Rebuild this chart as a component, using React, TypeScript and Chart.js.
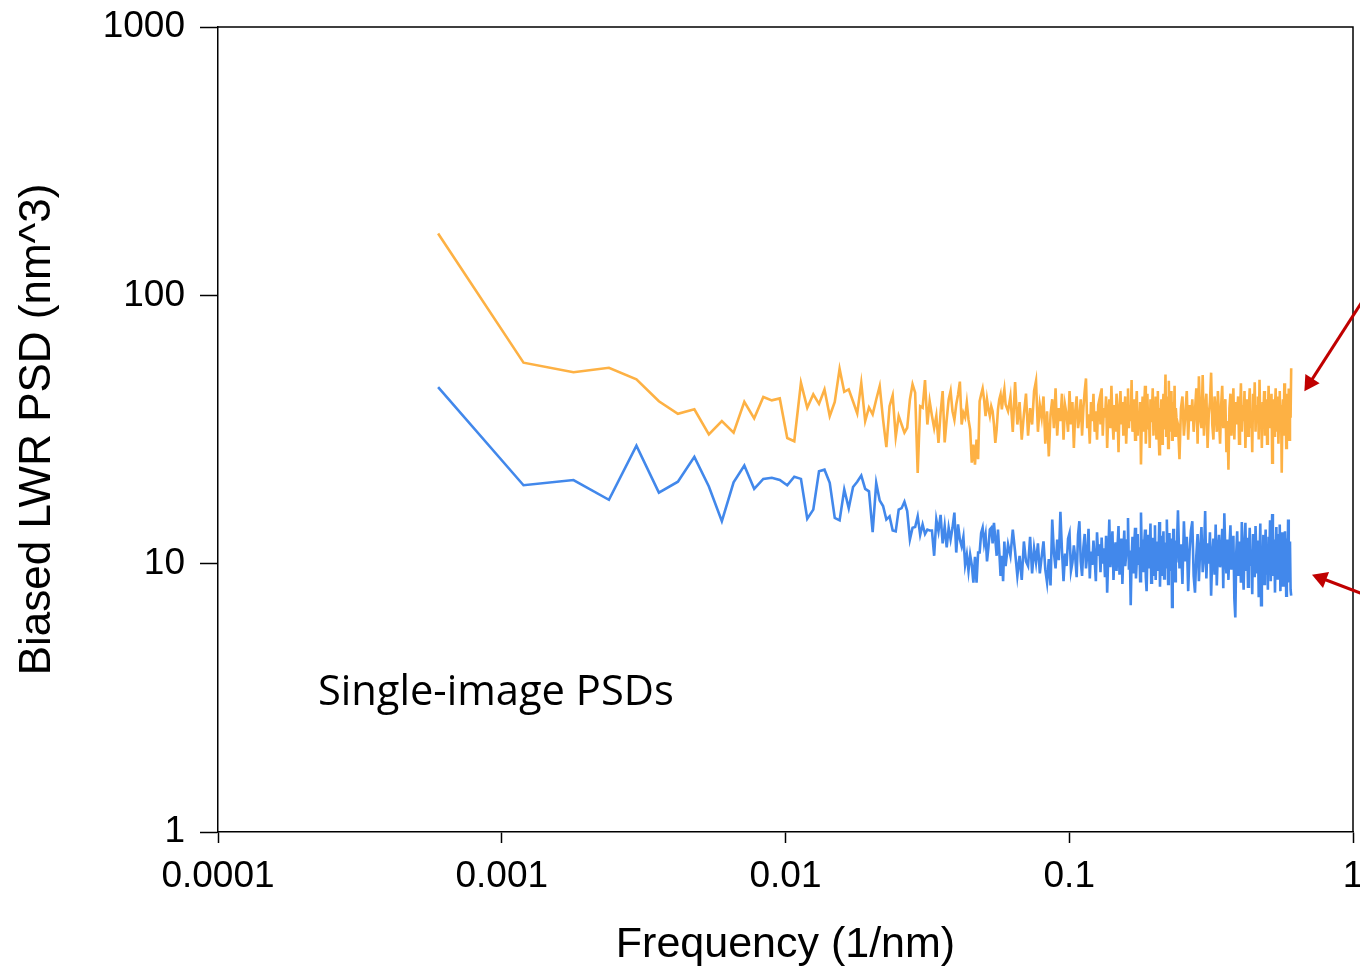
import React, { useEffect, useRef } from 'react';
import { Chart, registerables } from 'chart.js';

Chart.register(...registerables);

// Frequency grid: PSD bins are harmonics of the base frequency (1/nm)
const BASE_FREQ = 5.966e-4;
// [first harmonic, step, count]
const HARMONIC_SEGMENTS: number[][] = [
  [1, 1, 100],
  [102, 2, 150],
  [405, 5, 123],
];

const X_TICKS = [0.0001, 0.001, 0.01, 0.1, 1];
const X_TICK_LABELS = ['0.0001', '0.001', '0.01', '0.1', '1'];
const Y_TICKS = [1, 10, 100, 1000];
const Y_TICK_LABELS = ['1', '10', '100', '1000'];

const X_TITLE = 'Frequency (1/nm)';
const Y_TITLE = 'Biased LWR PSD (nm^3)';
const NOTE_TEXT = 'Single-image PSDs';
const NOTE_POS = { x: 2.25e-4, y: 2.98 };

// Arrow annotations (data coordinates): from -> to (tip)
const ARROWS = [
  { from: [1.47, 158], to: [0.674, 43.9] },
  { from: [1.47, 6.82], to: [0.717, 9.1] },
];

// Upper (orange) single-image PSD, nm^3
const ORANGE_PSD = [
  170, 56.1, 51.7, 53.7, 48.6, 40.3, 36.2, 37.6, 30.3, 34.0,
  30.8, 40.1, 34.8, 41.8, 40.6, 41.3, 29.4, 28.6, 47.2, 38.1,
  42.8, 39.4, 44.6, 35.5, 40.1, 53.2, 43.7, 44.6, 40.2, 36.3,
  47.2, 34.0, 38.2, 36.0, 40.9, 45.9, 34.4, 27.2, 38.6, 42.4,
  29.7, 35.5, 33.0, 30.8, 32.1, 40.9, 46.6, 43.4, 21.8, 38.6,
  38.1, 48.3, 33.0, 40.3, 35.6, 32.0, 35.6, 28.2, 36.5, 44.0,
  28.3, 34.4, 40.9, 44.0, 37.0, 34.4, 39.2, 42.7, 47.7, 33.0,
  36.5, 35.1, 39.8, 34.4, 31.6, 23.8, 27.8, 23.4, 29.0, 24.5,
  40.3, 42.7, 44.9, 40.9, 35.5, 40.9, 37.6, 35.5, 38.6, 37.0,
  33.0, 28.2, 31.6, 37.6, 40.9, 42.7, 37.6, 41.5, 44.6, 39.2,
  // step 2
  37, 42, 31, 47.5, 33, 40, 29, 36, 43, 30,
  38, 33, 44, 48, 31, 39, 35, 42, 28, 37,
  25.1, 36, 41, 32, 45, 30, 38, 34, 43, 29,
  39, 36, 31, 44, 33, 40, 27, 37, 42, 32,
  35, 41, 30, 38, 44, 49, 32, 36, 28, 40,
  34, 43, 31, 37, 29, 39, 40.9, 33, 45, 30,
  38, 35, 42, 27, 36, 41, 32, 46, 34, 29,
  39, 31, 43, 36, 26, 38, 44, 33, 40, 30,
  37, 42, 28, 35, 45, 32, 39, 34, 48.3, 31,
  36, 41, 29, 38, 44, 30, 37, 33, 40, 23.4,
  35, 42, 31, 39, 46, 28, 36, 43, 32, 38,
  27, 41, 34, 37, 45, 30, 39, 33, 42, 29,
  36, 44, 31, 25.6, 38, 35, 41, 28, 37, 43,
  32, 39, 50.7, 30, 36, 42, 27, 48, 34, 38,
  31, 44, 29, 37, 40, 33, 46, 30, 38, 35,
  // step 5
  33, 24.5, 38, 42, 30, 36, 44, 29, 39, 34,
  41, 31, 37, 45, 28, 49.9, 35, 32, 50.5, 30,
  38, 43, 27, 36, 40, 51.5, 33, 29, 42, 37,
  31, 44, 35, 28, 39, 46, 32, 37, 41, 26,
  34, 22.4, 38, 43, 30, 36, 45, 29, 40, 33,
  37, 42, 28, 35, 47, 31, 39, 34, 44, 27,
  36, 41, 30, 38, 45, 32, 37, 26, 43, 35,
  47.4, 31, 39, 34, 42, 29, 48.5, 33, 38, 27,
  40, 36, 44, 30, 37, 41, 28, 35, 46, 32,
  39, 34, 43, 23.8, 36, 41, 30, 38, 45, 31,
  37, 42, 28, 35, 44, 33, 39, 21.8, 36, 41,
  30, 47, 34, 38, 27, 43, 36, 32, 45, 29,
  40, 35, 53.5,
];

// Lower (blue) single-image PSD, nm^3
const BLUE_PSD = [
  45.5, 19.6, 20.5, 17.3, 27.5, 18.4, 20.2, 25.0, 19.4, 14.4,
  20.1, 23.2, 19.0, 20.7, 20.9, 20.5, 19.6, 21.1, 20.7, 14.7,
  15.9, 22.1, 22.4, 20.0, 14.8, 14.5, 18.9, 16.1, 19.3, 20.2,
  21.3, 19.0, 18.6, 13.1, 20.0, 17.2, 16.4, 14.6, 15.0, 13.3,
  13.2, 15.9, 16.1, 17.0, 15.7, 12.3, 13.6, 13.7, 15.0, 12.8,
  14.0, 12.9, 13.4, 13.3, 13.3, 10.7, 14.6, 13.2, 15.2, 11.9,
  13.8, 11.5, 13.6, 12.3, 13.6, 15.5, 11.0, 14.0, 12.3, 11.6,
  12.6, 9.9, 10.8, 9.4, 10.8, 9.9, 8.5, 10.6, 8.5, 11.0,
  11.0, 13.0, 13.6, 11.9, 12.8, 10.2, 11.5, 13.4, 13.6, 11.9,
  14.2, 12.3, 10.7, 13.4, 11.1, 9.0, 10.7, 8.6, 12.1, 9.8,
  // step 2
  11.8, 10.7, 13.4, 11.1, 9.0, 10.7, 8.7, 12.1, 10.2, 9.8,
  12.6, 9.2, 11.4, 10.1, 11.9, 9.2, 10.6, 12.1, 9.5, 8.5,
  10.4, 8.3, 14.6, 11.0, 9.6, 12.3, 10.3, 15.6, 11.2, 8.6,
  10.9, 9.8, 12.4, 13.0, 9.4, 10.1, 11.7, 10.5, 8.9, 12.8,
  14.4, 10.2, 9.0, 11.5, 12.9, 9.6, 10.8, 13.5, 8.8, 11.1,
  9.9, 12.2, 10.4, 8.6, 13.1, 10.7, 11.8, 9.3, 12.5, 10.0,
  11.4, 8.9, 12.7, 7.8, 10.6, 14.6, 9.7, 11.3, 13.2, 8.7,
  10.9, 12.0, 9.4, 11.6, 13.8, 9.1, 10.5, 12.4, 8.4, 11.0,
  13.3, 9.8, 10.8, 12.2, 14.8, 9.5, 11.2, 7.0, 10.4, 12.6,
  9.2, 11.7, 13.6, 8.8, 10.3, 12.9, 9.9, 11.5, 8.6, 15.5,
  10.6, 12.3, 9.3, 11.9, 13.4, 8.9, 7.9, 10.7, 12.8, 9.6,
  11.3, 14.1, 8.5, 10.2, 12.5, 9.0, 11.8, 13.9, 8.7, 10.9,
  12.1, 9.4, 11.0, 14.3, 8.2, 10.6, 12.7, 9.1, 11.5, 13.2,
  8.8, 10.4, 12.0, 9.7, 14.6, 11.1, 8.4, 10.8, 13.0, 9.5,
  11.6, 12.4, 6.9, 10.3, 13.5, 9.2, 11.0, 8.6, 12.2, 10.1,
  // step 5
  15.8, 9.6, 11.8, 8.4, 14.4, 10.2, 12.6, 7.9, 11.1, 13.3,
  14.4, 9.0, 7.8, 10.7, 12.9, 8.6, 11.4, 13.7, 9.3, 10.5,
  15.7, 8.8, 11.9, 10.0, 13.1, 7.6, 10.8, 12.4, 9.1, 14.0,
  8.3, 11.2, 12.8, 9.7, 10.4, 13.5, 8.1, 15.4, 10.9, 9.2,
  12.3, 8.7, 11.6, 13.9, 9.5, 10.3, 12.7, 7.4, 6.3, 11.0,
  13.2, 9.0, 10.6, 12.1, 8.5, 14.3, 10.1, 8.0, 11.7, 14.2,
  9.4, 12.5, 8.2, 10.8, 13.6, 9.8, 11.3, 7.7, 12.9, 10.2,
  8.9, 13.8, 11.0, 9.3, 12.2, 7.5, 10.6, 14.1, 7.0, 11.5,
  9.7, 12.8, 8.4, 10.9, 13.4, 9.1, 11.8, 8.0, 12.6, 10.4,
  14.5, 8.6, 11.2, 15.3, 9.0, 10.7, 12.3, 7.8, 11.6, 13.7,
  8.8, 10.1, 12.9, 9.5, 14.0, 7.9, 11.4, 10.0, 13.1, 8.3,
  11.9, 9.6, 13.2, 10.5, 7.6, 12.4, 9.2, 14.6, 8.5, 11.0,
  12.1, 8.0, 7.6,
];

const ORANGE = '#FDB144';
const BLUE = '#4288EB';
const ARROW_COLOR = '#C00000';
const AXIS_FONT = "'Liberation Sans', Arial, sans-serif";

const CANVAS_W = 1400;
const CANVAS_H = 967;

function buildFreqs(): number[] {
  const out: number[] = [];
  for (const [start, step, count] of HARMONIC_SEGMENTS) {
    for (let i = 0; i < count; i++) out.push((start + step * i) * BASE_FREQ);
  }
  return out;
}

const framePlugin = {
  id: 'frame',
  afterDraw(chart: any) {
    const { ctx, chartArea } = chart;
    ctx.save();
    ctx.strokeStyle = '#000';
    ctx.lineWidth = 1.5;
    ctx.beginPath();
    ctx.moveTo(chartArea.left, chartArea.top);
    ctx.lineTo(chartArea.right, chartArea.top);
    ctx.lineTo(chartArea.right, chartArea.bottom);
    ctx.stroke();
    ctx.restore();
  },
};

const notePlugin = {
  id: 'note',
  afterDraw(chart: any) {
    const { ctx, scales } = chart;
    const x = scales.x.getPixelForValue(NOTE_POS.x);
    const y = scales.y.getPixelForValue(NOTE_POS.y);
    ctx.save();
    ctx.font = "100px 'Open Sans', sans-serif";
    const w100 = ctx.measureText(NOTE_TEXT).width;
    const size = (100 * 356) / w100;
    ctx.font = `${size}px 'Open Sans', sans-serif`;
    ctx.fillStyle = '#000';
    ctx.textBaseline = 'alphabetic';
    ctx.textAlign = 'left';
    ctx.fillText(NOTE_TEXT, x, y);
    ctx.restore();
  },
};

const arrowPlugin = {
  id: 'arrows',
  afterDraw(chart: any) {
    const { ctx, scales } = chart;
    ctx.save();
    ctx.strokeStyle = ARROW_COLOR;
    ctx.fillStyle = ARROW_COLOR;
    ctx.lineWidth = 3;
    for (const a of ARROWS) {
      const x0 = scales.x.getPixelForValue(a.from[0]);
      const y0 = scales.y.getPixelForValue(a.from[1]);
      const x1 = scales.x.getPixelForValue(a.to[0]);
      const y1 = scales.y.getPixelForValue(a.to[1]);
      const len = Math.hypot(x1 - x0, y1 - y0);
      const ux = (x1 - x0) / len;
      const uy = (y1 - y0) / len;
      const head = 15;
      const half = 8.5;
      const bx = x1 - ux * head;
      const by = y1 - uy * head;
      ctx.beginPath();
      ctx.moveTo(x0, y0);
      ctx.lineTo(bx + ux * 2, by + uy * 2);
      ctx.stroke();
      ctx.beginPath();
      ctx.moveTo(x1, y1);
      ctx.lineTo(bx - uy * half, by + ux * half);
      ctx.lineTo(bx + uy * half, by - ux * half);
      ctx.closePath();
      ctx.fill();
    }
    ctx.restore();
  },
};

export default function App() {
  const canvasRef = useRef<HTMLCanvasElement | null>(null);

  useEffect(() => {
    const canvas = canvasRef.current;
    if (!canvas) return;
    const freqs = buildFreqs();
    const orange = freqs.map((f, i) => ({ x: f, y: ORANGE_PSD[i] }));
    const blue = freqs.map((f, i) => ({ x: f, y: BLUE_PSD[i] }));

    const chart = new Chart(canvas, {
      type: 'line',
      data: {
        datasets: [
          {
            label: 'PSD A',
            data: blue,
            borderColor: BLUE,
            backgroundColor: BLUE,
            borderWidth: 2.6,
            pointRadius: 0,
            tension: 0,
            fill: false,
          },
          {
            label: 'PSD B',
            data: orange,
            borderColor: ORANGE,
            backgroundColor: ORANGE,
            borderWidth: 2.6,
            pointRadius: 0,
            tension: 0,
            fill: false,
          },
        ],
      },
      options: {
        animation: false,
        responsive: false,
        devicePixelRatio: 1,
        parsing: true,
        layout: { padding: { top: 27, right: CANVAS_W - 1353, left: 0, bottom: 0 } },
        plugins: {
          legend: { display: false },
          tooltip: { enabled: false },
        },
        scales: {
          x: {
            type: 'logarithmic',
            position: 'bottom',
            min: 0.0001,
            max: 1,
            afterBuildTicks: (s: any) => {
              s.ticks = X_TICKS.map((v) => ({ value: v }));
            },
            afterFit: (s: any) => {
              s.height = CANVAS_H - 832;
            },
            grid: {
              drawOnChartArea: false,
              drawTicks: true,
              tickLength: 11,
              tickWidth: 1.5,
              tickColor: '#000',
            },
            border: { display: true, color: '#000', width: 1.5 },
            ticks: {
              autoSkip: false,
              maxRotation: 0,
              minRotation: 0,
              padding: 15,
              color: '#000',
              font: { family: AXIS_FONT, size: 37, lineHeight: 1 },
              callback: (_v: any, i: number) => X_TICK_LABELS[i],
            },
            title: {
              display: true,
              text: X_TITLE,
              color: '#000',
              font: { family: AXIS_FONT, size: 43, lineHeight: 1 },
              padding: { top: 0, bottom: 0.5 },
            },
          },
          y: {
            type: 'logarithmic',
            position: 'left',
            min: 1,
            max: 1000,
            afterBuildTicks: (s: any) => {
              s.ticks = Y_TICKS.map((v) => ({ value: v }));
            },
            afterFit: (s: any) => {
              s.width = 218;
            },
            grid: {
              drawOnChartArea: false,
              drawTicks: true,
              tickLength: 18,
              tickWidth: 1.5,
              tickColor: '#000',
            },
            border: { display: true, color: '#000', width: 1.5 },
            ticks: {
              autoSkip: false,
              padding: 15,
              color: '#000',
              font: { family: AXIS_FONT, size: 37, lineHeight: 0.6 },
              callback: (_v: any, i: number) => Y_TICK_LABELS[i],
            },
            title: {
              display: true,
              text: Y_TITLE,
              color: '#000',
              font: { family: AXIS_FONT, size: 44, lineHeight: 1 },
              padding: { top: 16, bottom: 0 },
            },
          },
        },
      } as any,
      plugins: [framePlugin, notePlugin, arrowPlugin],
    });

    return () => chart.destroy();
  }, []);

  return (
    <div
      style={{
        position: 'absolute',
        left: 0,
        top: 0,
        width: 1360,
        height: CANVAS_H,
        overflow: 'hidden',
        background: '#fff',
      }}
    >
      <canvas
        ref={canvasRef}
        width={CANVAS_W}
        height={CANVAS_H}
        style={{ display: 'block', width: CANVAS_W, height: CANVAS_H }}
      />
    </div>
  );
}
